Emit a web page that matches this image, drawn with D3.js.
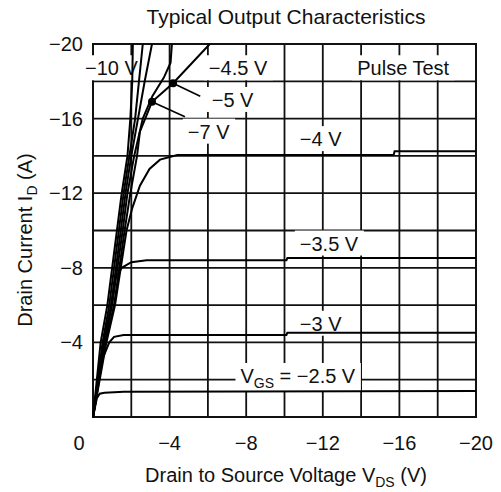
<!DOCTYPE html>
<html>
<head>
<meta charset="utf-8">
<script src="https://cdn.jsdelivr.net/npm/d3@7"></script>
<style>
  body { margin: 0; background: #fff; }
  text { font-family: "Liberation Sans", Arial, sans-serif; fill: #111; }
</style>
</head>
<body>
<div class="canvas"></div>
<script>
// tick values (V and A, both negative)
var vdsTicks = [-4, -8, -12, -16, -20];
var idTicks = [-4, -8, -12, -16, -20];
var gridSteps = [-2, -4, -6, -8, -10, -12, -14, -16, -18];

// curves: drain-source voltage / drain current
var vds10 = [0, -0.4, -0.75, -1.25, -1.5, -1.8, -1.95, -2.05, -2.08];
var id10  = [0, -4, -6, -10, -12, -14, -16, -18, -20];
var vds7  = [0, -0.5, -0.85, -1.35, -1.6, -1.9, -2.2, -2.4, -2.6];
var id7   = [0, -4, -6, -10, -12, -14, -16, -18, -20];
var vds6  = [0, -0.55, -0.95, -1.45, -1.7, -2.0, -2.35, -2.7, -3.08];
var id6   = [0, -4, -6, -10, -12, -14, -16, -18, -20];
var vds5  = [0, -0.6, -1.0, -1.55, -1.8, -2.15, -2.6, -3.1, -3.7, -4.05, -4.12];
var id5   = [0, -4, -6, -10, -12, -14, -16, -17.2, -18.2, -19, -20];
var vds45 = [0, -0.65, -1.1, -1.65, -1.95, -2.3, -2.45, -3.08, -4.18, -6.1];
var id45  = [0, -4, -6, -10, -12, -14, -15.3, -16.9, -17.9, -20];
var vds4  = [0, -0.7, -1.15, -1.75, -2.05, -2.45, -2.95, -3.5, -4.4, -15.7, -15.75, -20];
var id4   = [0, -4, -6, -10, -11.2, -12.4, -13.3, -13.8, -14.05, -14.05, -14.25, -14.25];
var vds35 = [0, -0.6, -0.95, -1.15, -1.5, -2.0, -2.8, -10.1, -10.15, -20];
var id35  = [0, -4, -6, -7.4, -8.0, -8.3, -8.4, -8.4, -8.52, -8.52];
var vds3  = [0, -0.45, -0.85, -1.1, -1.6, -10.1, -10.15, -20];
var id3   = [0, -3, -4.0, -4.3, -4.4, -4.4, -4.52, -4.52];
var vds25 = [0, -0.2, -0.35, -0.6, -1.6, -20];
var id25  = [0, -1.0, -1.25, -1.3, -1.35, -1.4];

var curves = [
  [vds10, id10], [vds7, id7], [vds6, id6], [vds5, id5], [vds45, id45],
  [vds4, id4], [vds35, id35], [vds3, id3], [vds25, id25]
];

// labels: text, anchor voltage, anchor current
var labelText = ["\u221210 V", "\u22124.5 V", "Pulse Test", "\u22125 V", "\u22127 V", "\u22124 V", "\u22123.5 V", "\u22123 V"];
var labelVds  = [0.42, -6.05, -13.8, -6.2, -4.95, -10.8, -10.8, -10.8];
var labelId   = [-18.7, -18.7, -18.7, -17.0, -15.3, -14.9, -9.3, -5.0];

// leader lines: from dot on curve to label
var leaderFrom = [[-4.18, -17.9], [-3.08, -16.9]];
var leaderTo   = [[-5.6, -17.2], [-4.8, -16.1]];

var W = 501, H = 492;
var svg = d3.select(".canvas").append("svg").attr("width", W).attr("height", H);

var x = d3.scaleLinear().domain([0, -20]).range([93, 476]);
var y = d3.scaleLinear().domain([0, -20]).range([417, 44]);

var graph = svg.append("g");

// grid
graph.selectAll(".gx").data(gridSteps).enter().append("line")
    .attr("x1", d => x(d)).attr("x2", d => x(d))
    .attr("y1", y(0)).attr("y2", y(-20))
    .attr("stroke", "#111").attr("stroke-width", 1.8);
graph.selectAll(".gy").data(gridSteps).enter().append("line")
    .attr("y1", d => y(d)).attr("y2", d => y(d))
    .attr("x1", x(0)).attr("x2", x(-20))
    .attr("stroke", "#111").attr("stroke-width", 1.8);

// frame
graph.append("rect")
    .attr("x", x(0)).attr("y", y(-20))
    .attr("width", x(-20) - x(0)).attr("height", y(0) - y(-20))
    .attr("fill", "none").attr("stroke", "#111").attr("stroke-width", 2);

// label boxes go under the curves but over the grid
var labels = graph.append("g");
var boxes = labels.append("g");
labelText.forEach(function(t, i) {
    labels.append("text")
        .attr("x", x(labelVds[i])).attr("y", y(labelId[i]))
        .attr("dy", "0.35em")
        .attr("font-size", "20px")
        .text(t);
});
// VGS label with subscript
var vgs = labels.append("text")
    .attr("x", x(-7.7)).attr("y", y(-2.2)).attr("dy", "0.35em")
    .attr("font-size", "20px");
vgs.append("tspan").text("V");
vgs.append("tspan").attr("font-size", "14px").attr("dy", 5).text("GS");
vgs.append("tspan").attr("dy", -5).text(" = \u22122.5 V");

labels.selectAll("text").each(function() {
    var b = this.getBBox();
    boxes.append("rect")
        .attr("x", b.x - 5).attr("y", b.y - 2)
        .attr("width", b.width + 10).attr("height", b.height + 3)
        .attr("fill", "#fff");
});

// curves
var line = d3.line().x(d => x(d[0])).y(d => y(d[1]));
curves.forEach(function(c) {
    graph.append("path")
        .datum(c[0].map((v, i) => [v, c[1][i]]))
        .attr("d", line)
        .attr("fill", "none")
        .attr("stroke", "#000")
        .attr("stroke-width", 2);
});

// leaders
leaderFrom.forEach(function(p, i) {
    graph.append("line")
        .attr("x1", x(p[0])).attr("y1", y(p[1]))
        .attr("x2", x(leaderTo[i][0])).attr("y2", y(leaderTo[i][1]))
        .attr("stroke", "#000").attr("stroke-width", 1.6);
    graph.append("circle")
        .attr("cx", x(p[0])).attr("cy", y(p[1])).attr("r", 4)
        .attr("fill", "#000");
});

// tick labels
graph.selectAll(".tx").data(vdsTicks).enter().append("text")
    .attr("x", d => x(d)).attr("y", 450)
    .attr("text-anchor", "middle").attr("font-size", "20px")
    .text(d => d3.format("")(d).replace("-", "\u2212"));
graph.selectAll(".ty").data(idTicks).enter().append("text")
    .attr("x", 83).attr("y", d => y(d)).attr("dy", "0.35em")
    .attr("text-anchor", "end").attr("font-size", "20px")
    .text(d => d3.format("")(d).replace("-", "\u2212"));
graph.append("text")
    .attr("x", 79).attr("y", 450)
    .attr("text-anchor", "middle").attr("font-size", "20px")
    .text("0");

// title
svg.append("text")
    .attr("x", 286).attr("y", 24)
    .attr("text-anchor", "middle").attr("font-size", "21px")
    .text("Typical Output Characteristics");

// x axis label
var xl = svg.append("text")
    .attr("x", 286).attr("y", 482)
    .attr("text-anchor", "middle").attr("font-size", "20px");
xl.append("tspan").text("Drain to Source Voltage  V");
xl.append("tspan").attr("font-size", "14px").attr("dy", 5).text("DS");
xl.append("tspan").attr("dy", -5).text("  (V)");

// y axis label
var yl = svg.append("text")
    .attr("transform", "translate(32,240) rotate(-90)")
    .attr("text-anchor", "middle").attr("font-size", "20px");
yl.append("tspan").text("Drain Current  I");
yl.append("tspan").attr("font-size", "14px").attr("dy", 5).text("D");
yl.append("tspan").attr("dy", -5).text("  (A)");
</script>
</body>
</html>
